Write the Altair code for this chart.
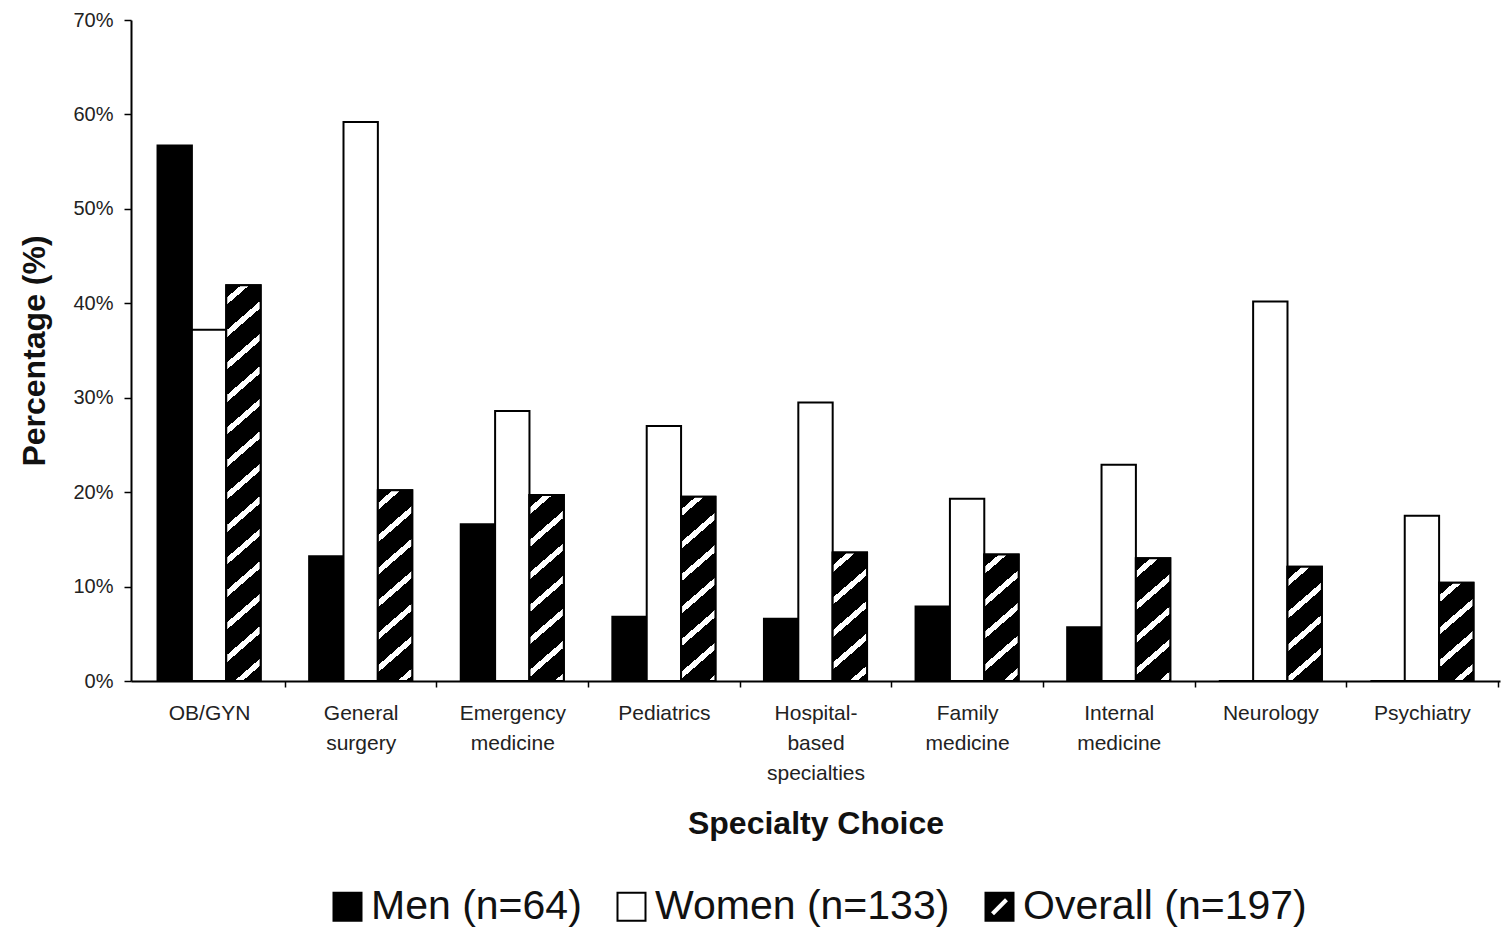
import math
import altair as alt
import pandas as pd

categories = ["OB/GYN", "General surgery", "Emergency medicine", "Pediatrics",
              "Hospital-based specialties", "Family medicine", "Internal medicine",
              "Neurology", "Psychiatry"]
series = ["Men (n=64)", "Women (n=133)", "Overall (n=197)"]
men = [56.7, 13.2, 16.6, 6.8, 6.6, 7.9, 5.7, 0.0, 0.0]
women = [37.2, 59.2, 28.6, 27.0, 29.5, 19.3, 22.9, 40.2, 17.5]
overall = [41.9, 20.2, 19.7, 19.5, 13.6, 13.4, 13.0, 12.1, 10.4]
y_ticks = [0, 10, 20, 30, 40, 50, 60, 70]

FONT = "Liberation Sans"
W, H = 1369, 661
Y_MAX = 70
P_INNER, P_OUTER = 0.32, 0.175

rows = []
for i, c in enumerate(categories):
    rows.append({"cat": c, "series": series[0], "value": men[i]})
    rows.append({"cat": c, "series": series[1], "value": women[i]})
    rows.append({"cat": c, "series": series[2], "value": overall[i]})
df = pd.DataFrame(rows)

# band layout
step = W / (len(categories) - P_INNER + 2 * P_OUTER)
bar_w = step * (1 - P_INNER) / 3

THETA = math.radians(41)
PERIOD = 32.5      # vertical period of the hatch, px
WHITE = 0.22       # fraction of the period that is white


def hatch(h_px, w_px=bar_w):
    t = math.tan(THETA)
    span = t * w_px + h_px
    a = span / (t * t * w_px * w_px + h_px * h_px)
    gx, gy = a * t * w_px, a * h_px
    n = span / PERIOD
    stops = [{"offset": 0, "color": "black"}]
    k = 0
    while True:
        s = (k + 0.5 - WHITE / 2) / n
        e = (k + 0.5 + WHITE / 2) / n
        if s >= 1:
            break
        s = max(s, 0)
        e = min(e, 1)
        stops += [{"offset": s, "color": "black"}, {"offset": s, "color": "white"},
                  {"offset": e, "color": "white"}, {"offset": e, "color": "black"}]
        k += 1
    stops.append({"offset": 1, "color": "black"})
    return {"gradient": "linear", "x1": 0, "y1": 0, "x2": gx, "y2": gy, "stops": stops}


x_enc = alt.X("cat:N", sort=categories, title="Specialty Choice",
              scale=alt.Scale(paddingInner=P_INNER, paddingOuter=P_OUTER),
              axis=alt.Axis(labelAngle=0, tickOffset=step / 2, labelOffset=-step / 2,
                            tickSize=6, tickWidth=1.5,
                            tickColor="black", domainColor="black", domainWidth=2,
                            labelFont=FONT, labelFontSize=21, labelColor="#222",
                            labelLineHeight=30, labelPadding=15,
                            labelExpr="split(replace(datum.label, '-', '- '), ' ')",
                            titleFont=FONT, titleFontSize=32, titleFontWeight="bold",
                            titleColor="#111", titlePadding=25))
xo_enc = alt.XOffset("series:N", sort=series, scale=alt.Scale(domain=series, paddingInner=0, paddingOuter=0))
y_enc = alt.Y("value:Q", title="Percentage (%)",
              scale=alt.Scale(domain=[0, Y_MAX], nice=False),
              axis=alt.Axis(values=y_ticks, labelExpr="datum.value + '%'", grid=False,
                            tickSize=7, tickWidth=1.5, tickColor="black",
                            domainColor="black", domainWidth=2,
                            labelFont=FONT, labelFontSize=20, labelColor="#222", labelPadding=11,
                            titleFont=FONT, titleFontSize=32, titleFontWeight="bold",
                            titleColor="#111", titlePadding=21))

fill_scale = alt.Scale(domain=series, range=["black", "white", "black"])
stroke_scale = alt.Scale(domain=series, range=["black", "black", "black"])
square = "M-1,-1H1V1H-1Z"
slash_hole = "M-0.706,0.394L-0.394,0.706L0.706,-0.394L0.394,-0.706Z"
shapes = [square, square, square + " " + slash_hole]
legend = alt.Legend(title=None, orient="none", direction="horizontal",
                    legendX=196, legendY=866,
                    symbolSize=784, symbolOpacity=1,
                    symbolStrokeColor="black", symbolStrokeWidth=2,
                    labelFont=FONT, labelFontSize=41, labelColor="#111", labelLimit=1000,
                    labelOffset=3, columnPadding=29)

base = alt.Chart(df).mark_bar(stroke="black", strokeWidth=2).encode(
    x=x_enc, xOffset=xo_enc, y=y_enc,
    fill=alt.Fill("series:N", sort=series, scale=fill_scale, legend=legend),
)

key = alt.Chart(df).mark_point(filled=True, opacity=0, strokeWidth=2).encode(
    x=alt.X("cat:N", sort=categories), y="value:Q",
    fill=alt.Fill("series:N", sort=series, scale=fill_scale, legend=legend),
    stroke=alt.Stroke("series:N", sort=series, scale=stroke_scale, legend=legend),
    shape=alt.Shape("series:N", sort=series, scale=alt.Scale(domain=series, range=shapes), legend=legend),
)

layers = [base]
for i, c in enumerate(categories):
    h_px = overall[i] / Y_MAX * H
    layers.append(
        alt.Chart(df).transform_filter(
            (alt.datum.cat == c) & (alt.datum.series == series[2])
        ).mark_bar(stroke="black", strokeWidth=2, fill=hatch(h_px)).encode(
            x=alt.X("cat:N", sort=categories), xOffset=alt.XOffset("series:N", sort=series), y="value:Q"
        )
    )
layers.append(key)

chart = alt.layer(*layers).properties(
    width=W, height=H,
    autosize=alt.AutoSizeParams(type="none"),
    padding={"left": 131, "top": 20, "right": 4, "bottom": 251},
    background="white",
).configure_view(stroke=None)

chart.save("out.html", embed_options={"renderer": "svg", "actions": False})
